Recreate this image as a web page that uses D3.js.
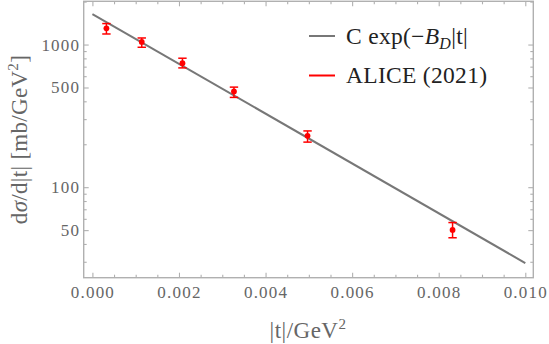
<!DOCTYPE html>
<html><head><meta charset="utf-8">
<script src="https://cdn.jsdelivr.net/npm/d3@7"></script>
<style>
html,body{margin:0;padding:0;background:#fff;}
svg{display:block;}
</style>
</head><body>
<svg id="c" width="549" height="344"></svg>
<script>
// Data
const tVals    = [0.000324, 0.00114, 0.00208, 0.00327, 0.00497, 0.00832];
const dsdt     = [1300, 1043, 740, 469, 229, 50.2];
const errUp    = [103, 69, 62, 34, 19, 6.3];
const errDown  = [114, 86, 54, 43, 22, 6.0];
const fitT     = [0, 0.010];
const fitV     = [1637, 29.4];
const xMajor   = [0, 0.002, 0.004, 0.006, 0.008, 0.010];
const xMajorLabels = ["0.000", "0.002", "0.004", "0.006", "0.008", "0.010"];
const xMinor   = [0.0005, 0.001, 0.0015, 0.0025, 0.003, 0.0035, 0.0045, 0.005, 0.0055, 0.0065, 0.007, 0.0075, 0.0085, 0.009, 0.0095];
const yMajor   = [50, 100, 500, 1000];
const yMajorLabels = ["50", "100", "500", "1000"];
const yMinor   = [30, 40, 60, 70, 80, 90, 200, 300, 400, 600, 700, 800, 900, 2000];
const legendLabels = ["fit", "ALICE (2021)"];

const svg = d3.select("#c");
const L = 83.7, R = 533.3, T = 1.3, B = 277.7;
const x = d3.scaleLinear().domain([-0.000201, 0.010185]).range([L, R]);
const y = d3.scaleLog().domain([23.2, 2010]).range([B, T]);
const frameCol = "#b0b0b0", textCol = "#666", font = "'Liberation Serif', 'Times New Roman', serif";

function styleAxis(g){
  g.selectAll(".domain").remove();
  g.selectAll(".tick line").attr("stroke", frameCol).attr("stroke-width", 1.1);
  g.selectAll("text").attr("fill", textCol).style("font-family", font).style("font-size", "17px").style("letter-spacing", "1.2px");
}
// bottom
svg.append("g").attr("transform", `translate(0,${B})`)
  .call(d3.axisBottom(x).tickValues(xMajor).tickFormat((d,i)=>xMajorLabels[i]).tickSizeInner(-5).tickSizeOuter(0).tickPadding(8))
  .call(styleAxis);
svg.append("g").attr("transform", `translate(0,${B})`)
  .call(d3.axisBottom(x).tickValues(xMinor).tickFormat("").tickSizeInner(-3).tickSizeOuter(0))
  .call(styleAxis);
// top
svg.append("g").attr("transform", `translate(0,${T})`)
  .call(d3.axisTop(x).tickValues(xMajor).tickFormat("").tickSizeInner(-5).tickSizeOuter(0)).call(styleAxis);
svg.append("g").attr("transform", `translate(0,${T})`)
  .call(d3.axisTop(x).tickValues(xMinor).tickFormat("").tickSizeInner(-3).tickSizeOuter(0)).call(styleAxis);
// left
svg.append("g").attr("transform", `translate(${L},0)`)
  .call(d3.axisLeft(y).tickValues(yMajor).tickFormat((d,i)=>yMajorLabels[i]).tickSizeInner(-5).tickSizeOuter(0).tickPadding(3.5))
  .call(styleAxis);
svg.append("g").attr("transform", `translate(${L},0)`)
  .call(d3.axisLeft(y).tickValues(yMinor.filter(v=>v>23.2&&v<2010)).tickFormat("").tickSizeInner(-3).tickSizeOuter(0)).call(styleAxis);
// right
svg.append("g").attr("transform", `translate(${R},0)`)
  .call(d3.axisRight(y).tickValues(yMajor).tickFormat("").tickSizeInner(-5).tickSizeOuter(0)).call(styleAxis);
svg.append("g").attr("transform", `translate(${R},0)`)
  .call(d3.axisRight(y).tickValues(yMinor.filter(v=>v>23.2&&v<2010)).tickFormat("").tickSizeInner(-3).tickSizeOuter(0)).call(styleAxis);

// frame
svg.append("rect").attr("x", L).attr("y", T).attr("width", R-L).attr("height", B-T)
  .attr("fill", "none").attr("stroke", frameCol).attr("stroke-width", 1.4);

// fit line
svg.append("path")
  .datum(fitT.map((t,i)=>[t, fitV[i]]))
  .attr("d", d3.line().x(d=>x(d[0])).y(d=>y(d[1])))
  .attr("stroke", "#777").attr("stroke-width", 2).attr("fill", "none");

// error bars
const pts = tVals.map((t,i)=>({t, v: dsdt[i], hi: dsdt[i]+errUp[i], lo: dsdt[i]-errDown[i]}));
const eg = svg.append("g").attr("stroke", "#f00").attr("stroke-width", 1.5);
eg.selectAll(".v").data(pts).join("line")
  .attr("x1", d=>x(d.t)).attr("x2", d=>x(d.t)).attr("y1", d=>y(d.hi)).attr("y2", d=>y(d.lo));
eg.selectAll(".h1").data(pts).join("line")
  .attr("x1", d=>x(d.t)-4.2).attr("x2", d=>x(d.t)+4.2).attr("y1", d=>y(d.hi)).attr("y2", d=>y(d.hi));
eg.selectAll(".h2").data(pts).join("line")
  .attr("x1", d=>x(d.t)-4.2).attr("x2", d=>x(d.t)+4.2).attr("y1", d=>y(d.lo)).attr("y2", d=>y(d.lo));
svg.append("g").selectAll("circle").data(pts).join("circle")
  .attr("cx", d=>x(d.t)).attr("cy", d=>y(d.v)).attr("r", 2.9).attr("fill", "#f00");

// axis labels
const xl = svg.append("text").attr("x", 308).attr("y", 338).attr("text-anchor", "middle")
  .attr("fill", textCol).style("font-family", font).style("font-size", "23px").style("letter-spacing", "0.5px");
xl.append("tspan").text("|t|/GeV");
xl.append("tspan").attr("dy", -9).style("font-size", "15px").text("2");

const yl = svg.append("text").attr("transform", `translate(27,${(T+B)/2}) rotate(-90)`).attr("text-anchor", "middle")
  .attr("fill", textCol).style("font-family", font).style("font-size", "23px").style("letter-spacing", "0.3px");
yl.append("tspan").text("d");
yl.append("tspan").style("font-style", "italic").text("σ");
yl.append("tspan").text("/d|t| [mb/GeV");
yl.append("tspan").attr("dy", -9).style("font-size", "15px").text("2");
yl.append("tspan").attr("dy", 9).text("]");

// legend
const lg = svg.append("g");
lg.append("line").attr("x1", 309).attr("x2", 335).attr("y1", 36).attr("y2", 36).attr("stroke", "#777").attr("stroke-width", 2);
lg.append("line").attr("x1", 309).attr("x2", 335).attr("y1", 75.5).attr("y2", 75.5).attr("stroke", "#f00").attr("stroke-width", 2);
const t1 = lg.append("text").attr("x", 346).attr("y", 44).attr("fill", "#222").style("font-family", font).style("font-size", "23.5px").style("letter-spacing", "0.3px");
t1.append("tspan").text("C exp(\u2212");
t1.append("tspan").style("font-style", "italic").text("B");
t1.append("tspan").attr("dy", 5).style("font-style", "italic").style("font-size", "16px").text("D");
t1.append("tspan").attr("dy", -5).text("|t|");
lg.append("text").attr("x", 346).attr("y", 83).attr("fill", "#222").style("font-family", font).style("font-size", "23.5px").style("letter-spacing", "0.3px").text(legendLabels[1]);
</script>
</body></html>
